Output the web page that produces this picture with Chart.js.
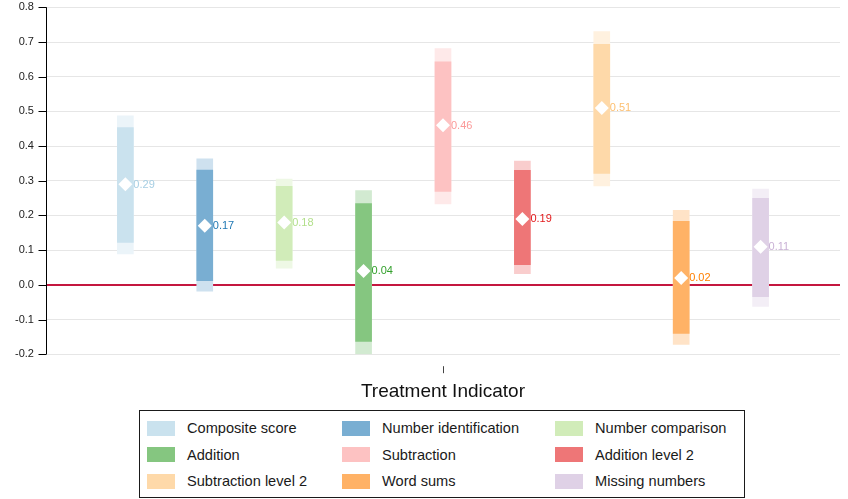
<!DOCTYPE html>
<html>
<head>
<meta charset="utf-8">
<script src="https://cdn.jsdelivr.net/npm/chart.js@4.4.1/dist/chart.umd.min.js"></script>
<style>
  html, body { margin: 0; padding: 0; background: #fff; }
  #wrap { position: relative; width: 848px; height: 499px; overflow: hidden; }
  #chartBox { position: absolute; left: 0; top: 0; width: 848px; height: 403px; }
  #legend {
    position: absolute; left: 139px; top: 410px; width: 606px; height: 88px;
    box-sizing: border-box; border: 1px solid #1a1a1a;
    font-family: 'Liberation Sans', Arial, sans-serif; font-size: 14.6px; color: #1a1a1a;
  }
  .item { position: absolute; display: flex; align-items: center; height: 16px; white-space: nowrap; }
  .sw { width: 28px; height: 15px; margin-right: 12px; flex: none; }
</style>
</head>
<body>
<div id="wrap">
  <div id="chartBox"><canvas id="c"></canvas></div>
  <div id="legend"></div>
</div>
<script>
// Outcomes, in plotting order
const categories = [
  'Composite score', 'Number identification', 'Number comparison',
  'Addition', 'Subtraction', 'Addition level 2',
  'Subtraction level 2', 'Word sums', 'Missing numbers'
];

// Point estimates of the treatment effect
const estimates = [0.29, 0.17, 0.18, 0.04, 0.46, 0.19, 0.51, 0.02, 0.11];

// 90% confidence intervals (inner bars)
const ci90Low  = [0.122, 0.012, 0.070, -0.163, 0.269, 0.058, 0.321, -0.140, -0.034];
const ci90High = [0.453, 0.331, 0.284,  0.234, 0.643, 0.330, 0.693,  0.183,  0.249];

// 95% confidence intervals (outer bars)
const ci95Low  = [0.089, -0.018, 0.048, -0.200, 0.233, 0.032, 0.285, -0.172, -0.062];
const ci95High = [0.487,  0.363, 0.305,  0.272, 0.681, 0.357, 0.730,  0.215,  0.276];

// Y axis tick values
const yTickValues = [-0.2, -0.1, 0.0, 0.1, 0.2, 0.3, 0.4, 0.5, 0.6, 0.7, 0.8];

const xTitle = 'Treatment Indicator';

// Paired palette, one colour per outcome
const palette = ['#a6cee3', '#1f78b4', '#b2df8a', '#33a02c', '#fb9a99', '#e31a1c', '#fdbf6f', '#ff7f00', '#cab2d6'];

const FONT = "'Liberation Sans', Arial, sans-serif";
const ZERO_COLOR = '#c4173f';

// Tint a hex colour toward white (opaque result)
function shade(hex, a) {
  const n = parseInt(hex.slice(1), 16);
  const r = n >> 16, g = (n >> 8) & 255, b = n & 255;
  const m = c => Math.round(255 - (255 - c) * a);
  return `rgb(${m(r)},${m(g)},${m(b)})`;
}

const positions = categories.map((_, i) => i + 1);

// Value labels to the right of each diamond
const valueLabels = {
  id: 'valueLabels',
  afterDatasetsDraw(chart) {
    const meta = chart.getDatasetMeta(2);
    const ctx = chart.ctx;
    ctx.save();
    ctx.font = `11px ${FONT}`;
    ctx.textAlign = 'left';
    ctx.textBaseline = 'middle';
    meta.data.forEach((pt, i) => {
      ctx.fillStyle = palette[i];
      ctx.fillText(estimates[i].toFixed(2), pt.x + 8, pt.y + 0.5);
    });
    ctx.restore();
  }
};

// Y axis line with outward tick marks, plus a single centred x tick
const axisMarks = {
  id: 'axisMarks',
  afterDraw(chart) {
    const ctx = chart.ctx;
    const ys = chart.scales.y;
    const xs = chart.scales.x;
    const area = chart.chartArea;
    const left = Math.round(area.left) + 0.5;
    ctx.save();
    ctx.strokeStyle = '#000';
    ctx.lineWidth = 1;
    ctx.beginPath();
    ctx.moveTo(left, ys.getPixelForValue(ys.max));
    ctx.lineTo(left, ys.getPixelForValue(ys.min));
    ys.ticks.forEach(t => {
      const y = Math.round(ys.getPixelForValue(t.value)) + 0.5;
      ctx.moveTo(left - 8, y);
      ctx.lineTo(left, y);
    });
    ctx.stroke();

    const x = Math.round(xs.getPixelForValue((xs.min + xs.max) / 2)) + 0.5;
    const y0 = area.bottom + 12;
    ctx.strokeStyle = '#444';
    ctx.beginPath();
    ctx.moveTo(x, y0);
    ctx.lineTo(x, y0 + 7);
    ctx.stroke();
    ctx.restore();
  }
};

new Chart(document.getElementById('c'), {
  type: 'bar',
  data: {
    datasets: [
      {
        type: 'bar',
        label: '95% CI',
        data: positions.map((x, i) => ({ x, y: [ci95Low[i], ci95High[i]] })),
        backgroundColor: palette.map(c => shade(c, 0.22)),
        barThickness: 16,
        grouped: false,
        order: 3
      },
      {
        type: 'bar',
        label: '90% CI',
        data: positions.map((x, i) => ({ x, y: [ci90Low[i], ci90High[i]] })),
        backgroundColor: palette.map(c => shade(c, 0.6)),
        barThickness: 16,
        grouped: false,
        order: 2
      },
      {
        type: 'scatter',
        label: 'Estimate',
        data: positions.map((x, i) => ({ x, y: estimates[i] })),
        pointStyle: 'rectRot',
        pointRadius: 7,
        pointBackgroundColor: '#fff',
        pointBorderColor: '#fff',
        pointBorderWidth: 0,
        order: 1
      }
    ]
  },
  options: {
    responsive: true,
    maintainAspectRatio: false,
    animation: false,
    layout: { padding: { top: 0, right: 8, left: 15, bottom: 0 } },
    plugins: { legend: { display: false }, tooltip: { enabled: false } },
    scales: {
      x: {
        type: 'linear',
        offset: false,
        min: 0,
        max: categories.length + 1,
        ticks: { display: false },
        grid: { display: false },
        border: { display: false },
        title: {
          display: true,
          text: xTitle,
          color: '#111',
          font: { family: FONT, size: 19 },
          padding: { top: 18, bottom: 0 }
        }
      },
      y: {
        min: yTickValues[0],
        max: yTickValues[yTickValues.length - 1],
        afterBuildTicks: s => { s.ticks = yTickValues.map(v => ({ value: v })); },
        ticks: {
          callback: v => Number(v).toFixed(1),
          color: '#222',
          font: { family: FONT, size: 11, lineHeight: 1.33 },
          padding: 0
        },
        grid: {
          color: c => (c.tick && Math.abs(c.tick.value) < 1e-9) ? ZERO_COLOR : '#e6e6e6',
          lineWidth: c => (c.tick && Math.abs(c.tick.value) < 1e-9) ? 2 : 1,
          drawTicks: true,
          tickLength: 12,
          tickColor: 'rgba(0,0,0,0)',
          tickWidth: 1
        },
        border: { display: false }
      }
    }
  },
  plugins: [valueLabels, axisMarks]
});

// Legend, three items per row
const colLeft = [7, 202, 415];
const rowTop = [9, 35.5, 62];
const legend = document.getElementById('legend');
categories.forEach((name, i) => {
  const item = document.createElement('div');
  item.className = 'item';
  item.style.left = colLeft[i % 3] + 'px';
  item.style.top = rowTop[Math.floor(i / 3)] + 'px';
  const sw = document.createElement('span');
  sw.className = 'sw';
  sw.style.background = shade(palette[i], 0.6);
  const tx = document.createElement('span');
  tx.textContent = name;
  item.appendChild(sw);
  item.appendChild(tx);
  legend.appendChild(item);
});
</script>
</body>
</html>
